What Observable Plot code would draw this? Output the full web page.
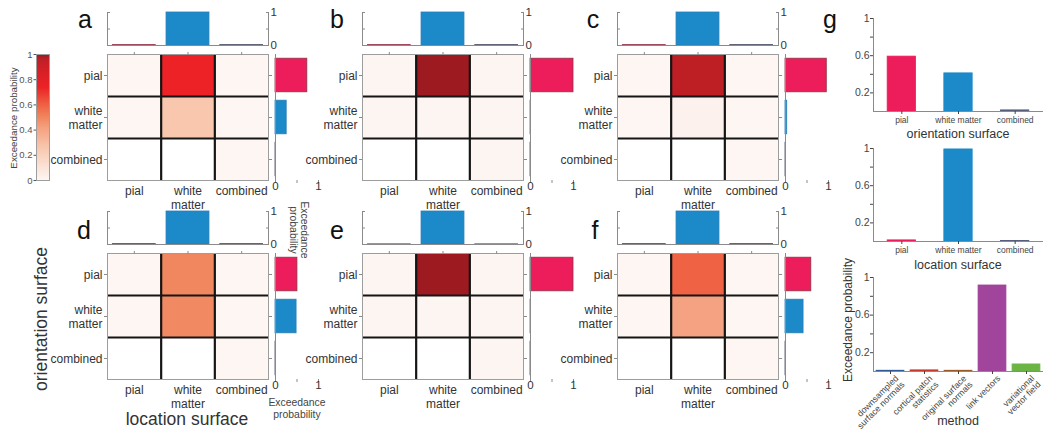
<!DOCTYPE html>
<html><head><meta charset="utf-8">
<script src="https://cdn.jsdelivr.net/npm/d3@7"></script>
<script src="https://cdn.jsdelivr.net/npm/@observablehq/plot@0.6"></script>
<style>
body{margin:0;background:#fff;}
#fig{position:relative;width:1043px;height:431px;overflow:hidden;background:#fff;}
</style></head><body><div id="fig"></div>
<script>
// ---------- data ----------
const surfaces = ["pial", "white matter", "combined"];
const surfaceTickLabels = ["pial", "white\nmatter", "combined"];
const panelLetters = ["a", "b", "c", "d", "e", "f"];
// joint exceedance probability: rows = orientation surface, cols = location surface (null = not applicable)
const jointA = [[0.006, 0.74, 0.006], [0.006, 0.26, 0.006], [null, null, 0.006]];
const jointB = [[0.01, 1.0, 0.01], [0.01, 0.01, 0.01], [null, null, 0.01]];
const jointC = [[0.008, 0.96, 0.008], [0.008, 0.03, 0.008], [null, null, 0.008]];
const jointD = [[0.006, 0.5, 0.006], [0.006, 0.49, 0.006], [null, null, 0.006]];
const jointE = [[0.01, 1.0, 0.01], [0.01, 0.01, 0.01], [null, null, 0.01]];
const jointF = [[0.006, 0.6, 0.006], [0.006, 0.41, 0.006], [null, null, 0.006]];
// marginal over orientation surface (right bars)
const orientA = [0.74, 0.26, 0.006];
const orientB = [1.0, 0.005, 0.005];
const orientC = [0.96, 0.04, 0.006];
const orientD = [0.51, 0.49, 0.006];
const orientE = [1.0, 0.005, 0.005];
const orientF = [0.6, 0.42, 0.006];
// marginal over location surface (top bars)
const locA = [0.012, 1.0, 0.012];
const locB = [0.012, 1.0, 0.012];
const locC = [0.012, 1.0, 0.012];
const locD = [0.012, 1.0, 0.012];
const locE = [0.004, 1.0, 0.004];
const locF = [0.012, 1.0, 0.012];
// panel g
const gOrientation = [0.59, 0.41, 0.012];
const gLocation = [0.012, 0.99, 0.006];
const methods = ["downsampled surface normals", "cortical patch statistics", "original surface normals", "link vectors", "variational vector field"];
const methodLabels = ["downsampled\nsurface normals", "cortical patch\nstatistics", "original surface\nnormals", "link vectors", "variational\nvector field"];
const methodValues = [0.008, 0.012, 0.008, 0.915, 0.075];
const colorbarTicks = [0, 0.2, 0.4, 0.6, 0.8, 1];
const colorbarTickLabels = ["0", "0.2", "0.4", "0.6", "0.8", "1"];
const marginTicks = [0, 0.5, 1];
const marginTickLabels = ["0", "", "1"];
const gTicks = [0.2, 0.4, 0.6, 0.8, 1];
const gTickLabels = ["0.2", "", "0.6", "", "1"];

// ---------- styles ----------
const surfaceColors = ["#ed1c5b", "#1c8ac9", "#56607e"];
const surfaceEdges = ["#8e3344", "#2a7db5", "#4a4e62"];
const methodColors = ["#2f5b94", "#c8392c", "#9a5b2a", "#a1449b", "#6cb545"];
const FONT = '"Liberation Sans", Arial, Helvetica, sans-serif';
const AX = "#8a8a8a", TXT = "#333";
const heatColor = {
  type: "linear",
  domain: [0, 0.26, 0.42, 0.5, 0.6, 0.74, 0.9, 0.96, 1],
  range: ["#fdf7f4", "#f8c7ae", "#f5a07f", "#f0875f", "#ef6244", "#ec2226", "#d11f26", "#be1f25", "#9d1b20"],
  interpolate: "rgb", clamp: true
};

const fig = document.getElementById("fig");
function place(opts, x, y, w, h, m = [12, 12, 12, 12]) {
  const svg = Plot.plot({
    ...opts,
    width: w + m[1] + m[3], height: h + m[0] + m[2],
    marginTop: m[0], marginRight: m[1], marginBottom: m[2], marginLeft: m[3],
    style: {background: "transparent", overflow: "visible", fontFamily: FONT, fontSize: "12px", color: TXT}
  });
  svg.style.position = "absolute";
  svg.style.left = (x - m[3]) + "px";
  svg.style.top = (y - m[0]) + "px";
  svg.style.maxWidth = "none";
  fig.appendChild(svg);
}
const idx = d => Math.round(d - 0.5);
const centers = n => d3.range(n).map(i => i + 0.5);
const ay = o => Plot.axisY({label: null, ...o});
const ax = o => Plot.axisX({label: null, ...o});

function heatmap(joint, x0, y0) {
  const cells = [];
  joint.forEach((row, r) => row.forEach((v, c) => { if (v != null) cells.push({r, c, v}); }));
  place({
    x: {domain: [0, 3], axis: null},
    y: {domain: [0, 3], reverse: true, axis: null},
    color: heatColor,
    marks: [
      Plot.rect(cells, {x1: "c", x2: d => d.c + 1, y1: "r", y2: d => d.r + 1, fill: "v"}),
      Plot.ruleX([1, 2], {stroke: "#151515", strokeWidth: 2.2}),
      Plot.ruleY([1, 2], {stroke: "#151515", strokeWidth: 2.2}),
      Plot.frame({stroke: "#9d9d9d"}),
      ay({anchor: "left", ticks: centers(3), tickSize: 3, tickFormat: () => "", color: AX}),
      ay({anchor: "right", ticks: centers(3), tickSize: 3, tickFormat: () => "", color: AX}),
      ax({anchor: "top", ticks: centers(3), tickSize: 3, tickFormat: () => "", color: AX}),
      ay({anchor: "left", ticks: centers(3), tickSize: 0, tickPadding: 5, fontSize: 12, lineHeight: 1.15,
        tickFormat: d => surfaceTickLabels[idx(d)], color: TXT}),
      ax({anchor: "bottom", ticks: centers(3), tickSize: 0, tickPadding: 5, fontSize: 12, lineHeight: 1.15,
        tickFormat: d => surfaceTickLabels[idx(d)], color: TXT})
    ]
  }, x0, y0, 161, 126);
}

function rightBars(vals, x0, y0) {
  const data = vals.map((v, i) => ({i, v}));
  place({
    x: {domain: [0, 1], axis: null},
    y: {domain: [0, 3], reverse: true, axis: null},
    color: {type: "identity"},
    marks: [
      Plot.rect(data, {x1: 0, x2: "v", y1: d => d.i + 0.1, y2: d => d.i + 0.9,
        fill: d => surfaceColors[d.i], stroke: d => surfaceEdges[d.i], strokeWidth: 0.8}),
      Plot.ruleX([0], {stroke: AX}),
      ax({anchor: "bottom", ticks: marginTicks, tickSize: 3, tickPadding: 1, tickFormat: () => "", color: AX}),
      ax({anchor: "bottom", ticks: marginTicks, tickSize: 0, tickPadding: 1, fontSize: 11.5,
        tickFormat: d => marginTickLabels[marginTicks.indexOf(d)], color: TXT})
    ]
  }, x0, y0, 43, 126);
}

function topBars(vals, x0, y0) {
  const data = vals.map((v, i) => ({i, v}));
  place({
    x: {domain: [0, 3], axis: null},
    y: {domain: [0, 1], axis: null},
    color: {type: "identity"},
    marks: [
      Plot.rect(data, {x1: d => d.i + 0.1, x2: d => d.i + 0.9, y1: 0, y2: "v",
        fill: d => surfaceColors[d.i], stroke: d => surfaceEdges[d.i], strokeWidth: 0.8}),
      Plot.ruleY([0], {stroke: AX}),
      Plot.ruleX([0, 3], {stroke: AX}),
      ay({anchor: "left", ticks: [0.5, 1], tickSize: -3, tickFormat: () => "", color: AX}),
      ay({anchor: "right", ticks: marginTicks, tickSize: -3, tickFormat: () => "", color: AX}),
      ay({anchor: "right", ticks: marginTicks, tickSize: 0, tickPadding: 2, fontSize: 11.5,
        tickFormat: d => marginTickLabels[marginTicks.indexOf(d)], color: TXT})
    ]
  }, x0, y0, 161, 33);
}

const joints = [jointA, jointB, jointC, jointD, jointE, jointF];
const orients = [orientA, orientB, orientC, orientD, orientE, orientF];
const locs = [locA, locB, locC, locD, locE, locF];
const colX = [107, 362, 617];
const rowY = [54, 253];
panelLetters.forEach((p, k) => {
  const x0 = colX[k % 3], y0 = rowY[Math.floor(k / 3)];
  heatmap(joints[k], x0, y0);
  rightBars(orients[k], x0 + 168, y0);
  topBars(locs[k], x0, y0 - 42);
});

// colorbar
place({
  x: {domain: [0, 1], axis: null},
  y: {domain: [0, 1], axis: null},
  color: heatColor,
  marks: [
    Plot.raster({x1: 0, x2: 1, y1: 0, y2: 1, width: 2, height: 126, fill: (x, y) => y}),
    Plot.frame({stroke: "#9d9d9d"}),
    ay({anchor: "left", ticks: colorbarTicks, tickSize: 2.5, tickPadding: 1.5, fontSize: 9.5,
      tickFormat: d => colorbarTickLabels[colorbarTicks.indexOf(d)], color: "#555"})
  ]
}, 36, 54, 13, 126);

// panel g
function gPanel(labels, vals, colors, x0, y0, w, h, bw, rotated) {
  const n = vals.length;
  const data = vals.map((v, i) => ({i, v}));
  const marks = [
    Plot.rect(data, {x1: d => d.i + 0.5 - bw / 2, x2: d => d.i + 0.5 + bw / 2, y1: 0, y2: "v",
      fill: d => colors[d.i], stroke: d => colors[d.i], strokeWidth: 0.8}),
    Plot.ruleY([0], {stroke: AX}),
    Plot.ruleX([0], {stroke: AX}),
    ay({anchor: "left", ticks: gTicks, tickSize: 3, tickPadding: 1, fontSize: 10.5,
      tickFormat: d => gTickLabels[gTicks.indexOf(d)], color: "#444"}),
    ax({anchor: "bottom", ticks: centers(n), tickSize: 3, tickPadding: 2, fontSize: 8.5,
      tickFormat: rotated ? () => "" : d => labels[idx(d)], color: "#444"})
  ];
  if (rotated) marks.push(Plot.text(data, {x: d => d.i + 0.5, y: 0, text: d => labels[d.i], rotate: -45,
    textAnchor: "end", lineAnchor: "top", dx: 4, dy: 3, fontSize: 8.8, fill: "#444"}));
  place({x: {domain: [0, n], axis: null}, y: {domain: [0, 1], axis: null}, color: {type: "identity"}, marks},
    x0, y0, w, h);
}
gPanel(surfaces, gOrientation, surfaceColors, 873, 18, 170, 93, 0.5, false);
gPanel(surfaces, gLocation, surfaceColors, 873, 148, 170, 93, 0.5, false);
gPanel(methodLabels, methodValues, methodColors, 873, 277, 170, 94, 0.82, true);

// ---------- annotation text ----------
const ov = d3.select(fig).append("svg")
  .attr("width", 1043).attr("height", 431)
  .style("position", "absolute").style("left", "0px").style("top", "0px")
  .style("font-family", FONT).style("pointer-events", "none");
function txt(s, x, y, size, rot = 0, fill = "#222", anchor = "middle") {
  ov.append("text").attr("transform", `translate(${x},${y}) rotate(${rot})`)
    .attr("text-anchor", anchor).attr("font-size", size).attr("fill", fill).text(s);
}
const letterPos = [[85, 28], [337, 28], [593, 28], [84, 239], [337, 239], [595, 239]];
panelLetters.forEach((p, k) => txt(p, letterPos[k][0], letterPos[k][1], 25, 0, "#111"));
txt("g", 830, 28, 25, 0, "#111");
txt("Exceedance probability", 16.5, 118, 9.8, -90, "#444");
txt("orientation surface", 47, 319, 17.5, -90, "#333");
txt("location surface", 187, 425, 17.5, 0, "#333");
txt("Exceedance", 297, 406, 10.4, 0, "#444");
txt("probability", 297, 418, 10.4, 0, "#444");
txt("Exceedance", 301, 230, 10.4, 90, "#444");
txt("probability", 289.5, 230, 10.4, 90, "#444");
txt("orientation surface", 958, 138, 12.5, 0, "#333");
txt("location surface", 958, 269, 12.5, 0, "#333");
txt("method", 958, 425, 12.5, 0, "#333");
txt("Exceedance probability", 851.5, 320, 12, -90, "#333");
</script></body></html>
